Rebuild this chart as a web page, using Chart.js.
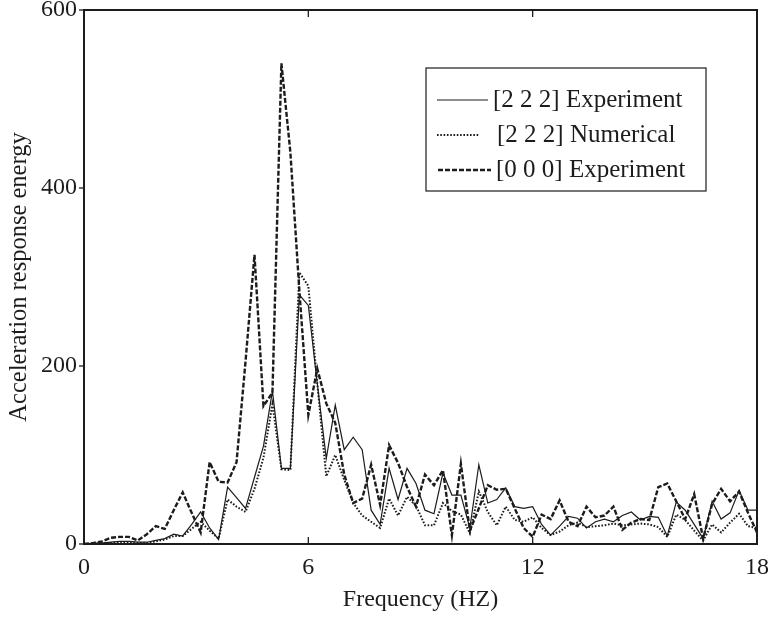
<!DOCTYPE html>
<html>
<head>
<meta charset="utf-8">
<script src="https://cdn.jsdelivr.net/npm/chart.js@4.4.0/dist/chart.umd.min.js"></script>
<style>
  html, body { margin: 0; padding: 0; background: #fff; }
  #wrap { width: 772px; height: 618px; }
</style>
</head>
<body>
<div id="wrap"><canvas id="energy" width="772" height="618"></canvas></div>
<script>
// frequency samples (Hz)
const freq = [0, 0.24, 0.48, 0.72, 0.96, 1.2, 1.44, 1.68, 1.92, 2.16, 2.4, 2.64, 2.88, 3.12, 3.36, 3.6,
  3.84, 4.08, 4.32, 4.56, 4.8, 5.04, 5.28, 5.52, 5.76, 6.0, 6.24, 6.48, 6.72, 6.96, 7.2, 7.44, 7.68,
  7.92, 8.16, 8.4, 8.64, 8.88, 9.12, 9.36, 9.6, 9.84, 10.08, 10.32, 10.56, 10.8, 11.04, 11.28, 11.52,
  11.76, 12.0, 12.24, 12.48, 12.72, 12.96, 13.2, 13.44, 13.68, 13.92, 14.16, 14.4, 14.64, 14.88, 15.12,
  15.36, 15.6, 15.84, 16.08, 16.32, 16.56, 16.8, 17.04, 17.28, 17.52, 17.76, 18.0];

const exp222 = [0, 1, 1, 2, 3, 3, 2, 2, 4, 6,
  11, 9, 22, 36, 18, 5, 64, 52, 40, 75,
  110, 172, 85, 85, 280, 268, 180, 96, 156, 106,
  120, 106, 38, 22, 85, 50, 85, 68, 38, 34,
  80, 55, 55, 18, 89, 46, 50, 63, 42, 40,
  42, 22, 10, 20, 31, 29, 18, 25, 28, 25,
  32, 36, 27, 31, 30, 9, 47, 38, 22, 6,
  48, 28, 35, 60, 38, 38];

const num222 = [0, 0, 1, 1, 2, 2, 1, 1, 3, 5,
  9, 9, 17, 25, 15, 6, 50, 42, 36, 62,
  97, 157, 84, 83, 305, 290, 180, 76, 100, 72,
  46, 32, 25, 18, 51, 32, 53, 43, 21, 21,
  46, 37, 33, 12, 59, 36, 21, 42, 27, 25,
  30, 18, 10, 14, 21, 24, 19, 20, 21, 23,
  21, 22, 23, 22, 19, 8, 33, 27, 15, 4,
  22, 13, 24, 34, 20, 18];

const exp000 = [0, 1, 3, 7, 8, 8, 4, 11, 20, 17,
  38, 58, 35, 13, 92, 70, 69, 92, 205, 325,
  155, 170, 540, 440, 285, 145, 197, 158, 136, 78,
  46, 51, 89, 44, 111, 91, 64, 42, 78, 66,
  83, 10, 90, 15, 40, 66, 61, 62, 40, 18,
  8, 33, 28, 49, 25, 20, 42, 30, 32, 42,
  16, 24, 28, 27, 64, 68, 48, 28, 56, 6,
  45, 62, 48, 59, 35, 13];

const seriesLabels = ['[2 2 2] Experiment', '[2 2 2] Numerical', '[0 0 0] Experiment'];
const xTicks = [0, 6, 12, 18];
const yTicks = [0, 200, 400, 600];

const ink = '#1c1c1c';
const serif = "'Liberation Serif', 'Times New Roman', serif";

function points(values) {
  return values.map((v, i) => ({ x: freq[i], y: v }));
}

function seg(ctx, x1, y1, x2, y2) {
  ctx.beginPath();
  ctx.moveTo(x1, y1);
  ctx.lineTo(x2, y2);
  ctx.stroke();
}

// box, tick marks and the boxed legend
const framePlugin = {
  id: 'frame',
  afterDatasetsDraw(chart) {
    const { ctx, chartArea: a, scales } = chart;
    ctx.save();
    ctx.strokeStyle = ink;
    ctx.lineWidth = 2;
    ctx.strokeRect(a.left, a.top, a.right - a.left, a.bottom - a.top);

    ctx.lineWidth = 1.3;
    xTicks.forEach(v => {
      const x = scales.x.getPixelForValue(v);
      seg(ctx, x, a.bottom, x, a.bottom - 7);
      seg(ctx, x, a.top, x, a.top + 7);
    });
    yTicks.forEach(v => {
      const y = scales.y.getPixelForValue(v);
      seg(ctx, a.left - 5, y, a.left, y);
    });

    // legend
    ctx.fillStyle = '#fff';
    ctx.fillRect(426, 68, 280, 123);
    ctx.lineWidth = 1.2;
    ctx.strokeRect(426, 68, 280, 123);
    const rowY = [100, 135, 170];
    const sample = [[437, 488], [437, 479], [438, 491]];
    const textX = [493, 497, 496];
    ctx.font = '25px ' + serif;
    ctx.textBaseline = 'middle';
    chart.data.datasets.forEach((ds, i) => {
      ctx.lineWidth = ds.borderWidth;
      ctx.setLineDash(ds.borderDash || []);
      seg(ctx, sample[i][0], rowY[i], sample[i][1], rowY[i]);
      ctx.setLineDash([]);
      ctx.fillStyle = ink;
      ctx.fillText(ds.label, textX[i], rowY[i]);
    });
    ctx.restore();
  }
};

new Chart(document.getElementById('energy'), {
  type: 'line',
  data: {
    datasets: [
      {
        label: seriesLabels[0],
        data: points(exp222),
        borderColor: ink,
        borderWidth: 1.2
      },
      {
        label: seriesLabels[1],
        data: points(num222),
        borderColor: ink,
        borderWidth: 2,
        borderDash: [1.6, 1.7]
      },
      {
        label: seriesLabels[2],
        data: points(exp000),
        borderColor: ink,
        borderWidth: 2.4,
        borderDash: [5, 2]
      }
    ]
  },
  options: {
    responsive: false,
    animation: false,
    elements: { point: { radius: 0 }, line: { tension: 0, fill: false } },
    layout: { padding: { top: 10, right: 15, left: 0, bottom: 0 } },
    plugins: { legend: { display: false }, tooltip: { enabled: false } },
    scales: {
      x: {
        type: 'linear',
        min: 0,
        max: 18,
        afterBuildTicks: scale => { scale.ticks = xTicks.map(v => ({ value: v })); },
        afterFit: scale => {
          scale.height = 74;
          scale.paddingLeft = 0;
          scale.paddingRight = 0;
        },
        grid: { display: false, drawTicks: false },
        border: { display: false },
        ticks: { color: ink, padding: 9, maxRotation: 0, font: { family: serif, size: 24 } },
        title: {
          display: true,
          text: 'Frequency (HZ)',
          color: ink,
          font: { family: serif, size: 24 },
          padding: { top: 0, bottom: 4 }
        }
      },
      y: {
        min: 0,
        max: 600,
        afterBuildTicks: scale => { scale.ticks = yTicks.map(v => ({ value: v })); },
        afterFit: scale => {
          scale.width = 84;
          scale.paddingTop = 0;
          scale.paddingBottom = 0;
        },
        grid: { display: false, drawTicks: false },
        border: { display: false },
        ticks: { color: ink, padding: 7, font: { family: serif, size: 24 } },
        title: {
          display: true,
          text: 'Acceleration response energy',
          color: ink,
          font: { family: serif, size: 24.5 },
          padding: { top: 5, bottom: 2 }
        }
      }
    }
  },
  plugins: [framePlugin]
});
</script>
</body>
</html>
